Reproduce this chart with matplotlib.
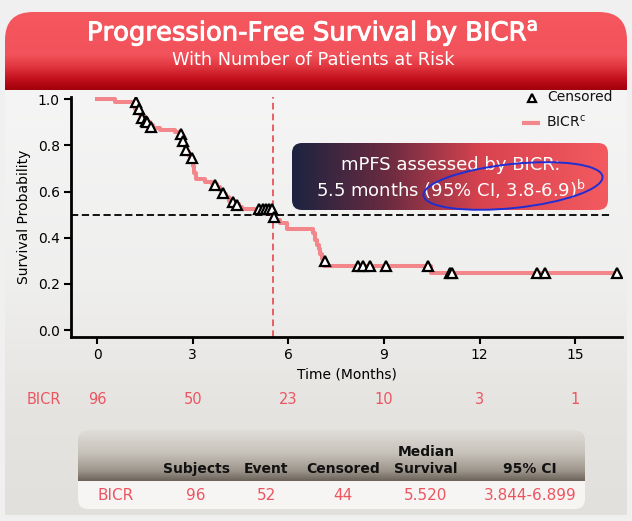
import numpy as np
import matplotlib
matplotlib.use('Agg')
import matplotlib.pyplot as plt
from matplotlib.patches import FancyBboxPatch, Ellipse, Rectangle
from matplotlib.colors import to_rgb
import matplotlib.patheffects as pe

plt.rcParams['font.family'] = ['DejaVu Sans']
plt.rcParams['mathtext.fontset'] = 'dejavusans'

# ---------------- data ----------------
km_time = [0, 0.56, 1.12, 1.20, 1.28, 1.36, 1.45, 1.55, 1.65, 1.75, 1.98, 2.45,
           2.60, 2.65, 2.70, 2.75, 2.80, 2.87, 2.95, 3.00, 3.05, 3.10, 3.40, 3.60,
           3.75, 3.85, 3.95, 4.05, 4.15, 4.30, 4.45, 4.55, 5.50, 5.58, 5.74, 5.96,
           6.78, 6.85, 6.90, 6.95, 7.00, 7.05, 7.12, 10.48]
km_surv = [1.00, 0.99, 0.975, 0.96, 0.945, 0.93, 0.915, 0.90, 0.89, 0.877, 0.866, 0.857,
           0.845, 0.83, 0.81, 0.79, 0.77, 0.755, 0.74, 0.71, 0.68, 0.655, 0.643, 0.632,
           0.62, 0.605, 0.59, 0.575, 0.56, 0.548, 0.535, 0.524, 0.50, 0.476, 0.463, 0.44,
           0.42, 0.39, 0.37, 0.35, 0.33, 0.31, 0.278, 0.247]
km_end = 16.3
cens_time = [1.22, 1.32, 1.41, 1.54, 1.58, 1.69, 2.64, 2.70, 2.79, 2.98, 3.70, 3.95,
             4.27, 4.40, 5.08, 5.20, 5.30, 5.40, 5.49, 5.55, 7.15, 8.19, 8.35, 8.57,
             9.07, 10.39, 11.08, 11.14, 13.80, 14.06, 16.30]
cens_surv = [0.987, 0.957, 0.92, 0.905, 0.90, 0.88, 0.85, 0.82, 0.78, 0.745, 0.628, 0.593,
             0.554, 0.54, 0.524, 0.524, 0.524, 0.524, 0.524, 0.49, 0.30, 0.278, 0.278, 0.278,
             0.278, 0.278, 0.247, 0.247, 0.247, 0.247, 0.247]
median_time = 5.52
median_surv = 0.5
risk_times = [0, 3, 6, 9, 12, 15]
risk_counts = [96, 50, 23, 10, 3, 1]
xticks = [0, 3, 6, 9, 12, 15]
yticks = [0.0, 0.2, 0.4, 0.6, 0.8, 1.0]
table_cols = ['Subjects', 'Event', 'Censored', 'Median\nSurvival', '95% CI']
table_vals = ['96', '52', '44', '5.520', '3.844-6.899']
table_row = 'BICR'

RED_TXT = '#ec5560'
CURVE = '#f3868b'

W, H = 632, 521
fig = plt.figure(figsize=(W / 100, H / 100), dpi=100)
bg = fig.add_axes([0, 0, 1, 1], zorder=0)
bg.set_xlim(0, W)
bg.set_ylim(H, 0)
bg.axis('off')


def grad_array(stops, n=256):
    pos = np.array([s[0] for s in stops])
    cols = np.array([to_rgb(s[1]) for s in stops])
    t = np.linspace(0, 1, n)
    return np.stack([np.interp(t, pos, cols[:, i]) for i in range(3)], axis=-1)


def vgrad(x0, x1, y0, y1, stops, clip=None, z=1):
    arr = grad_array(stops)[:, None, :]
    im = bg.imshow(arr, extent=(x0, x1, y1, y0), aspect='auto', origin='upper',
                   interpolation='bilinear', zorder=z)
    if clip is not None:
        im.set_clip_path(clip)
    return im


def hgrad(x0, x1, y0, y1, stops, clip=None, z=1):
    arr = grad_array(stops)[None, :, :]
    im = bg.imshow(arr, extent=(x0, x1, y1, y0), aspect='auto', origin='upper',
                   interpolation='bilinear', zorder=z)
    if clip is not None:
        im.set_clip_path(clip)
    return im


# page background
bg.add_patch(Rectangle((0, 0), W, H, facecolor='#f0f0f0', edgecolor='none', zorder=0))
vgrad(5, 627, 88, 515, [(0, '#f5f5f5'), (0.45, '#efefee'), (0.75, '#e6e4e1'), (1, '#e2e0dd')], z=0.5)

# title banner
ban = FancyBboxPatch((5, 12), 622, 110, boxstyle='round,pad=0,rounding_size=28',
                     facecolor='none', edgecolor='none')
bg.add_patch(ban)
vgrad(5, 627, 12, 90, [(0, '#f6585f'), (0.55, '#f2525b'), (0.7, '#e0363f'), (0.85, '#c4121e'),
                       (1, '#a0000a')],
      clip=ban, z=1)
bold_fx = [pe.withStroke(linewidth=0.7, foreground='white')]
bg.text(313, 33, r'Progression-Free Survival by BICR$^{\mathrm{a}}$', color='white',
        fontsize=18.6, ha='center', va='center', zorder=3, path_effects=bold_fx)
bg.text(313, 60, 'With Number of Patients at Risk', color='white', fontsize=12.8,
        ha='center', va='center', zorder=3)

# annotation box
box = FancyBboxPatch((292, 143), 316, 67, boxstyle='round,pad=0,rounding_size=10',
                     facecolor='none', edgecolor='none')
bg.add_patch(box)
hgrad(292, 608, 143, 210, [(0, '#1c2340'), (0.3, '#6a2b41'), (0.6, '#d9434f'), (1, '#f35a60')],
      clip=box, z=1)
bg.text(451, 165, 'mPFS assessed by BICR:', color='white', fontsize=13,
        ha='center', va='center', zorder=3)
bg.text(451, 189, r'5.5 months (95% CI, 3.8-6.9)$^{\mathrm{b}}$', color='white', fontsize=13,
        ha='center', va='center', zorder=3)
bg.add_patch(Ellipse((513, 186), 180, 44, angle=-6, facecolor='none', edgecolor='#1f2fd2',
                     lw=1.4, zorder=4))

# legend
bg.plot([532], [98], marker='^', ms=6, mfc='white', mec='black', mew=1.6, ls='none', zorder=3)
bg.text(547, 97, 'Censored', fontsize=10, ha='left', va='center', color='#111111', zorder=3)
bg.plot([522, 540], [123, 123], color=CURVE, lw=3, zorder=3, solid_capstyle='butt')
bg.text(546, 122, r'BICR$^{\mathrm{c}}$', fontsize=10, ha='left', va='center',
        color='#111111', zorder=3)

# table
tb = FancyBboxPatch((78, 430), 507, 79, boxstyle='round,pad=0,rounding_size=10',
                    facecolor='#f6f5f4', edgecolor='none', zorder=1)
bg.add_patch(tb)
vgrad(78, 585, 430, 481, [(0, '#e0ddd8'), (0.45, '#c7c2ba'), (0.8, '#9d958b'), (1, '#6b6358')],
      clip=tb, z=1.5)
col_x = [196, 266, 343, 426, 530]
for cx, lab in zip(col_x, table_cols):
    bg.text(cx, 473, lab, fontsize=10, fontweight='bold', ha='center', va='baseline',
            color='#111111', linespacing=1.25, zorder=3)
bg.text(116, 496, table_row, fontsize=11, ha='center', va='center', color=RED_TXT, zorder=3)
for cx, v in zip(col_x, table_vals):
    bg.text(cx, 496, v, fontsize=11, ha='center', va='center', color=RED_TXT, zorder=3)

bg.set_xlim(0, W)
bg.set_ylim(H, 0)

# ---------------- main KM axes ----------------
ax = fig.add_axes([71 / W, 1 - 337 / H, (622 - 71) / W, (337 - 97) / H], zorder=2)
ax.patch.set_alpha(0)
ax.set_xlim(-0.82, 16.47)
ax.set_ylim(-0.03, 1.01)

ax.plot([-0.82, 16.1], [median_surv, median_surv], color='black', ls=(0, (4, 2)), lw=1.3, zorder=2)
ax.plot([median_time, median_time], [-0.03, 1.01], color='#e8464c', ls=(0, (4, 2.5)), lw=1.2,
        zorder=2)
ax.step(km_time + [km_end], km_surv + [km_surv[-1]], where='post', color=CURVE, lw=2.9, zorder=3)
ax.plot(cens_time, cens_surv, ls='none', marker='^', ms=7.5, mfc='white', mec='black', mew=1.6,
        zorder=4)

for s in ['top', 'right']:
    ax.spines[s].set_visible(False)
for s in ['left', 'bottom']:
    ax.spines[s].set_linewidth(2)
    ax.spines[s].set_color('black')
ax.set_xticks(xticks)
ax.set_yticks(yticks)
ax.set_yticklabels([f'{v:.1f}' for v in yticks])
ax.tick_params(direction='out', length=5, width=1.5, labelsize=10, colors='black', pad=3)
ax.set_xlabel('Time (Months)', fontsize=10, labelpad=4)
ax.set_ylabel('Survival Probability', fontsize=10, labelpad=5)

# number at risk
ax.text(-1.66, -0.30, table_row, fontsize=10.5, ha='center', va='center', color=RED_TXT,
        clip_on=False)
for t, n in zip(risk_times, risk_counts):
    ax.text(t, -0.30, str(n), fontsize=10.5, ha='center', va='center', color=RED_TXT,
            clip_on=False)

fig.savefig('out.png', dpi=100)
